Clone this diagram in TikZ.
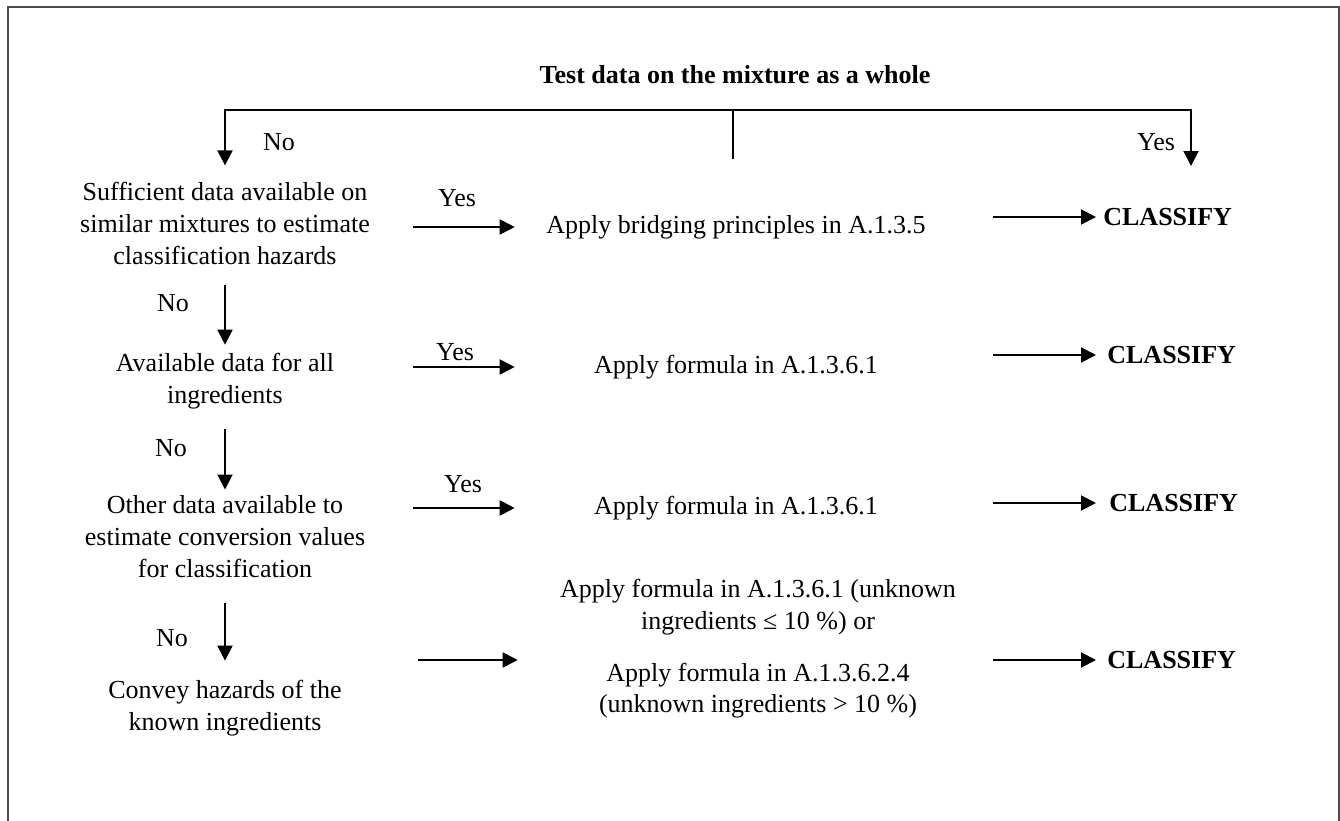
\documentclass[tikz,border=0pt]{standalone}
\usepackage{fontspec}
\setmainfont{Liberation Serif}
\usetikzlibrary{arrows.meta}

\begin{document}
\begin{tikzpicture}[x=0.02cm, y=-0.02cm, >={Triangle[length=0.3cm,width=0.3cm]}]
   \useasboundingbox (0,0) rectangle (1340,821);
   \fontsize{14.8}{18.2}\selectfont
   \tikzstyle{frame}=[draw=black!70, line width=0.9pt]
   \tikzstyle{question}=[align=flush center, text width=6.2cm, inner sep=0pt]
   \tikzstyle{action}=[align=flush center, text width=8.6cm, inner sep=0pt]
   \tikzstyle{answer}=[inner sep=0pt]
   \tikzstyle{result}=[anchor=west, inner sep=0pt, font=\bfseries]
   \tikzstyle{flow}=[->, line width=1.1pt]
   \draw[frame] (8,830) -- (8,7) -- (1339,7) -- (1339,830);
   \node[font=\bfseries] (whole) at (735,75) {Test data on the mixture as a whole};
   % left column
   \node[question] (q1) at (225,223) {Sufficient data available on\\ similar mixtures to estimate\\ classification hazards};
   \node[question] (q2) at (225,381) {Available data for all\\ ingredients};
   \node[question] (q3) at (225,537) {Other data available to\\ estimate conversion values\\ for classification};
   \node[question] (q4) at (225,708) {Convey hazards of the\\ known ingredients};
   % middle column
   \node[action] (m1) at (736,227) {Apply bridging principles in A.1.3.5};
   \node[action] (m2) at (736,367) {Apply formula in A.1.3.6.1};
   \node[action] (m3) at (736,508) {Apply formula in A.1.3.6.1};
   \node[action] (m4) at (758,649) {Apply formula in A.1.3.6.1 (unknown\\ ingredients ≤ 10 \%) or\\[11pt] Apply formula in A.1.3.6.2.4\\ (unknown ingredients > 10 \%)};
   \foreach \i/\x/\y in {1/1103/217,2/1107/355,3/1109/503,4/1107/660}
      \node[result] (c\i) at (\x,\y) {CLASSIFY};
   % labels
   \node[answer] (no0) at (279,142) {No};
   \node[answer] (yes0) at (1156,142) {Yes};
   \node[answer] (no1) at (173,303) {No};
   \node[answer] (no2) at (171,448) {No};
   \node[answer] (no3) at (172,638) {No};
   \node[answer] (yes1) at (457,198) {Yes};
   \node[answer] (yes2) at (455,352) {Yes};
   \node[answer] (yes3) at (463,484) {Yes};
   % top split
   \coordinate (split) at (733,110);
   \coordinate (tick) at (733,159);
   \coordinate (yesend) at (1191,166);
   \draw[line width=1pt] (split) -- (tick);
   \draw[flow, shorten >=0.32cm] (split) -| (q1.north);
   \draw[flow] (split) -| (yesend);
   % down the left column
   \draw[flow, shorten <=0.4cm, shorten >=0.16cm] (q1.south) -- (q2.north);
   \draw[flow, shorten <=0.4cm, shorten >=0.12cm] (q2.south) -- (q3.north);
   \draw[flow, shorten <=0.5cm, shorten >=0.38cm] (q3.south) -- (q4.north);
   % across
   \foreach \i in {1,2,3}
      \draw[flow, shorten <=0.66cm, shorten >=0.12cm] (q\i.east |- m\i) -- (m\i.west);
   \draw[flow, shorten <=0.76cm, shorten >=0.5cm] (q4.east |- c4) -- (m4.west |- c4);
   \foreach \i/\t in {1/0.14,2/0.22,3/0.26}
      \draw[flow, shorten <=0.84cm, shorten >=\t cm] (m\i.east |- c\i) -- (c\i.west);
   \draw[flow, shorten <=0.4cm, shorten >=0.22cm] (m4.east |- c4) -- (c4.west);
\end{tikzpicture}
\end{document}
